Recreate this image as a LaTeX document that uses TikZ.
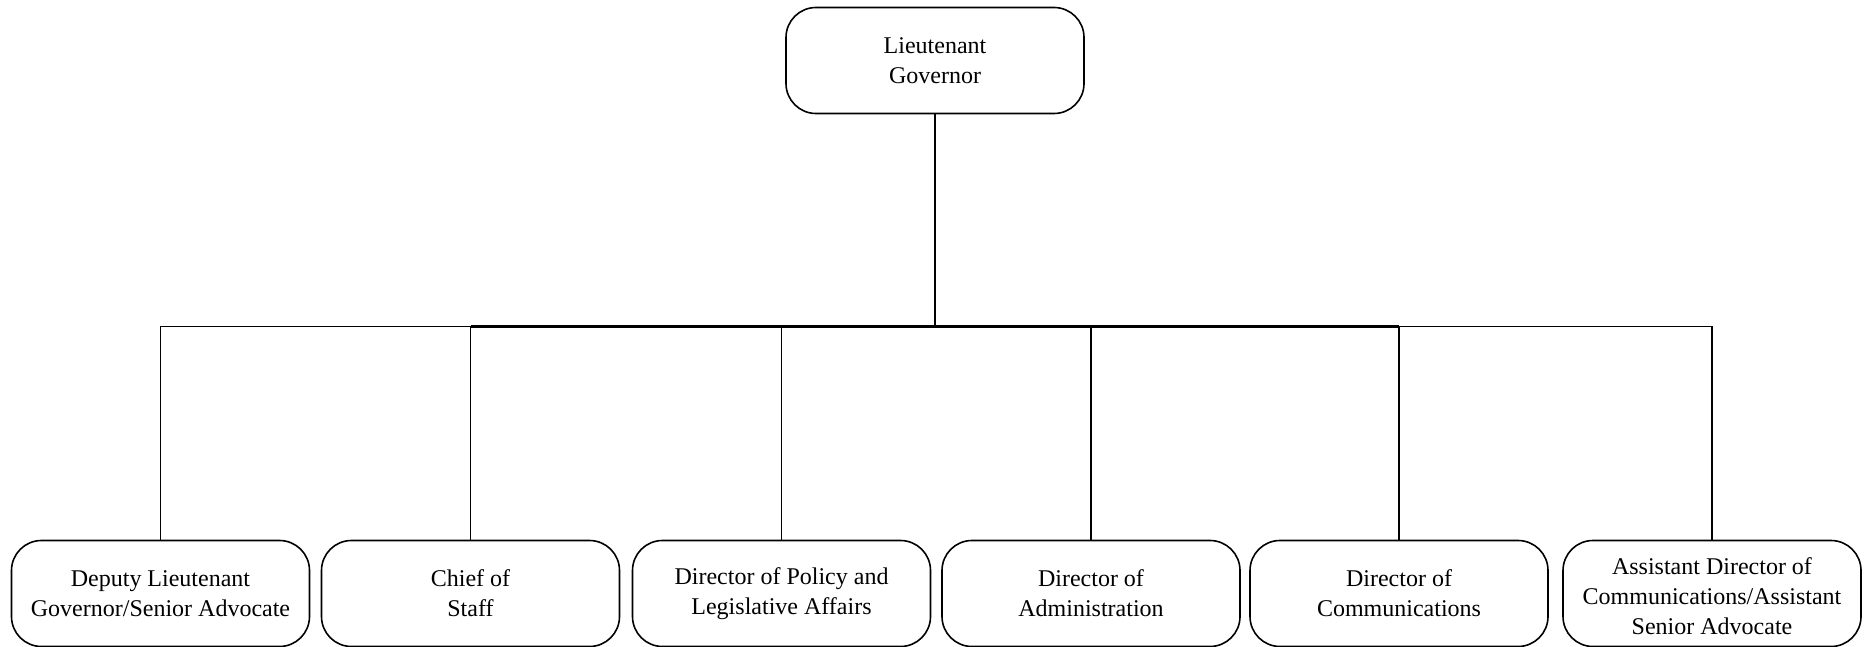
\documentclass[tikz,border=0pt]{standalone}
\usepackage{fontspec}
\setmainfont{Liberation Serif}
\begin{document}
\begin{tikzpicture}[x=1pt,y=-1pt,
  box/.style={draw=black, line width=1.6pt, rounded corners=30pt, minimum width=298pt,
    minimum height=106pt, inner sep=0pt, align=center, font=\fontsize{24}{30}\selectfont},
  conn/.style={draw=black, line width=1.5pt},
  mainconn/.style={draw=black, line width=2.6pt}]
\useasboundingbox (0,0) rectangle (1868,647);
\node[box] (top) at (935,60.5) {Lieutenant\\Governor};
\node[box] (c1) at (160.5,593.5) {Deputy Lieutenant\\Governor/Senior Advocate};
\node[box] (c2) at (470.5,593.5) {Chief of\\Staff};
\node[box] (c3) at (781.5,593.5) {Director of Policy and\\Legislative Affairs};
\node[box] (c4) at (1091,593.5) {Director of\\Administration};
\node[box] (c5) at (1399,593.5) {Director of\\Communications};
\node[box] (c6) at (1712,593.5) {\rule{0pt}{23pt}Assistant Director of\\Communications/Assistant\\Senior Advocate};
\coordinate (hub) at (935,326.5);
\coordinate (b1) at (160.5,326.5);
\coordinate (b2) at (470.5,326.5);
\coordinate (b3) at (781.5,326.5);
\coordinate (b4) at (1091,326.5);
\coordinate (b5) at (1399,326.5);
\coordinate (b6) at (1712,326.5);
\draw[conn] (c1.north) -- (b1) -- (b6) -- (c6.north);
\draw[conn] (c2.north) -- (b2);
\draw[conn] (c3.north) -- (b3);
\draw[conn] (c4.north) -- (b4);
\draw[conn] (c5.north) -- (b5);
\draw[mainconn] (b2) -- (b5);
\draw[mainconn] (top.south) -- (hub);
\end{tikzpicture}
\end{document}
